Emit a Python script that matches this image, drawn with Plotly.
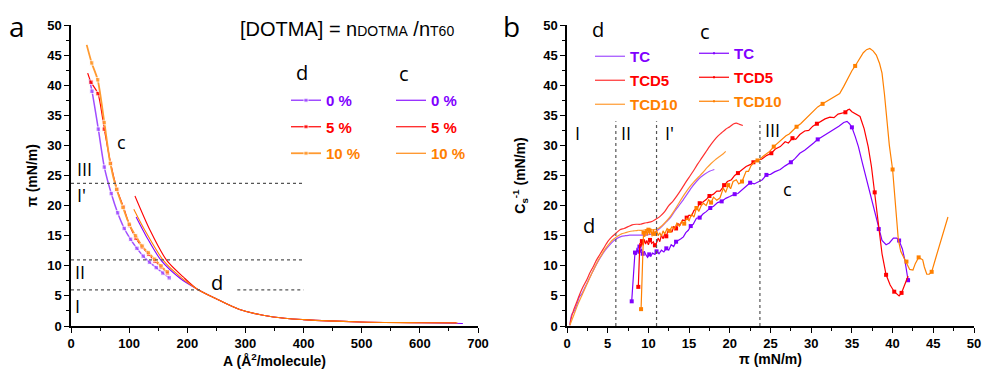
import plotly.graph_objects as go

W, H = 982, 371


def px(x):
    return x / W


def py(y):
    return 1 - y / H


# ---------------- Panel a : pi-A isotherms ----------------
a_d0 = [(31.5, 41.0), (36.1, 39.0), (47.0, 32.7), (57.3, 26.4), (69.3, 22.0), (80.2, 18.8),
        (91.6, 16.2), (102.5, 14.4), (113.4, 12.9), (124.3, 11.6), (135.0, 10.6),
        (146.6, 9.7), (158.0, 8.8), (169.0, 8.0)]
a_d5 = [(28.7, 42.0), (34.4, 40.5), (46.4, 38.6), (57.3, 32.7), (68.2, 27.0), (79.0, 22.7),
        (90.0, 19.8), (100.8, 16.7), (111.7, 14.6), (122.6, 13.1), (133.5, 11.9),
        (144.3, 10.8), (155.2, 9.8), (166.0, 8.8)]
a_d10 = [(27.0, 46.7), (35.6, 43.7), (45.9, 40.9), (57.3, 33.8), (67.6, 27.0), (78.5, 22.7),
         (89.4, 19.7), (100.2, 16.9), (111.0, 15.0), (122.0, 13.3), (132.9, 12.2),
         (143.8, 11.1), (154.6, 10.0), (165.5, 9.0)]
a_tail = [(248, 4.6), (290, 2.75), (348, 1.5), (400, 1.06), (497, 0.67), (600, 0.55)]
a_c0 = [(112, 18.1), (130, 14.8), (155, 10.9), (188, 7.9), (216, 6.2)] + a_tail + [(674, 0.42)]
a_c5 = [(110, 21.6), (136, 15.9), (164.6, 10.9), (193, 8.15), (216, 6.2)] + a_tail + [(663, 0.55)]
a_c10 = [(108, 19.4), (127, 15.9), (158.8, 10.9), (190, 8.0), (216, 6.2)] + a_tail + [(665, 0.5)]
conc_labels = ["0 %", "5 %", "10 %"]
regime_pi = [6.0, 11.0, 23.7]
a_regime_labels = [("I", 11.5, 3.4), ("II", 15.5, 9.0), ("I'", 17.2, 21.7), ("III", 22.9, 26.0)]
a_ticks_x = [0, 100, 200, 300, 400, 500, 600, 700]
ticks_50 = [0, 5, 10, 15, 20, 25, 30, 35, 40, 45, 50]

# ---------------- Panel b : compressibility modulus ----------------
b_d_tc = [(0.35, 0.1), (0.45, 1.2), (0.6, 2.0), (0.8, 2.3), (1.0, 2.8), (1.3, 3.9), (1.5, 4.8),
          (1.8, 5.3), (2.2, 6.4), (2.6, 7.5), (3.0, 8.6), (3.4, 9.7), (3.8, 10.7), (4.2, 11.6),
          (4.7, 12.6), (5.2, 13.4), (5.7, 14.1), (6.2, 14.6), (6.7, 14.9), (7.2, 15.0), (7.7, 15.1),
          (8.2, 15.1), (8.7, 15.1), (9.2, 15.1), (9.7, 15.1), (10.2, 15.2), (10.7, 15.5),
          (11.2, 16.0), (11.7, 16.6), (12.2, 17.3), (12.7, 18.0), (13.2, 19.0), (13.7, 19.9),
          (14.3, 21.0), (14.8, 22.0), (15.3, 23.0), (15.9, 24.0), (16.4, 24.7), (16.9, 25.2),
          (17.5, 25.7), (18.1, 26.0)]
b_d_tcd5 = [(0.35, 0.2), (0.5, 1.2), (0.8, 2.6), (1.2, 4.0), (1.6, 5.4), (2.0, 6.6), (2.4, 7.6),
            (2.8, 8.8), (3.2, 9.8), (3.6, 10.9), (4.0, 11.8), (4.5, 12.9), (5.0, 14.0), (5.5, 14.8),
            (6.0, 15.4), (6.5, 16.0), (7.0, 16.2), (7.5, 16.5), (8.0, 16.8), (8.5, 16.9), (9.0, 16.9),
            (9.5, 17.1), (10.0, 17.2), (10.5, 17.4), (11.0, 17.8), (11.5, 18.3), (12.0, 19.0),
            (12.5, 20.0), (13.0, 20.7), (13.5, 21.6), (14.0, 22.6), (14.5, 23.7), (15.0, 24.7),
            (15.5, 25.7), (16.0, 26.8), (16.5, 27.8), (17.0, 28.8), (17.5, 29.8), (18.0, 30.7),
            (18.5, 31.5), (19.0, 32.1), (19.5, 32.7), (20.0, 33.1), (20.5, 33.6), (20.8, 33.7),
            (21.2, 33.5), (21.6, 33.3)]
b_d_tcd10 = [(0.35, 0.1), (0.6, 1.0), (1.0, 2.4), (1.4, 3.8), (1.8, 5.0), (2.2, 6.2), (2.6, 7.4),
             (3.0, 8.6), (3.4, 9.7), (3.8, 10.8), (4.2, 11.7), (4.7, 12.8), (5.2, 13.7), (5.7, 14.4),
             (6.2, 14.9), (6.7, 15.3), (7.2, 15.5), (7.7, 15.7), (8.2, 15.8), (8.7, 15.9), (9.2, 15.9),
             (9.7, 16.0), (10.2, 16.0), (10.7, 16.0), (11.2, 16.2), (11.7, 16.7), (12.2, 17.4),
             (12.7, 18.2), (13.2, 19.2), (13.7, 20.3), (14.2, 21.4), (14.7, 22.4), (15.2, 23.3),
             (15.7, 24.1), (16.2, 24.8), (16.7, 25.5), (17.2, 26.3), (17.7, 27.0), (18.2, 27.6),
             (18.7, 28.1), (19.2, 28.6), (19.5, 29.0)]

b_c_tc = [(7.95, 4.1), (8.2, 9.0), (8.35, 12.2), (8.5, 11.8), (8.6, 13.0), (8.75, 12.0), (8.9, 13.2),
          (9.0, 12.2), (9.15, 12.8), (9.3, 12.0), (9.5, 12.4), (9.7, 11.8), (9.9, 11.4), (10.1, 11.9),
          (10.3, 11.6), (10.5, 12.1), (10.8, 11.9), (11.0, 12.4), (11.3, 12.0), (11.6, 12.6),
          (11.9, 12.3), (12.2, 12.9), (12.5, 12.6), (12.8, 13.5), (13.1, 13.2), (13.4, 14.0),
          (13.7, 14.2), (14.0, 14.5), (14.3, 14.8), (14.6, 15.5), (14.9, 15.9), (15.2, 16.6),
          (15.5, 16.9), (15.9, 17.9), (16.3, 18.0), (16.7, 18.6), (17.1, 19.0), (17.6, 19.6),
          (18.0, 19.9), (18.5, 20.5), (19.0, 20.7), (19.5, 21.2), (20.0, 21.5), (20.6, 21.9),
          (21.0, 22.0), (21.5, 22.6), (22.0, 23.2), (22.5, 23.8), (23.0, 23.6), (23.5, 23.9),
          (24.0, 24.3), (24.5, 25.1), (25.0, 25.2), (25.5, 25.6), (26.2, 26.0), (26.8, 26.6),
          (27.5, 27.2), (28.0, 27.8), (28.6, 28.7), (29.2, 29.2), (29.8, 29.8), (30.3, 30.4),
          (30.8, 31.0), (31.5, 31.6), (32.2, 32.1), (32.8, 32.7), (33.4, 33.2), (34.0, 33.8),
          (34.4, 34.0), (34.7, 33.6), (35.0, 33.0), (35.4, 31.5), (35.8, 29.8), (36.3, 27.0),
          (36.8, 24.3), (37.3, 21.5), (37.8, 18.6), (38.3, 16.1), (38.7, 14.2), (39.2, 13.5),
          (39.6, 13.8), (40.1, 14.6), (40.5, 14.6), (40.8, 14.2), (41.2, 12.8), (41.5, 11.0),
          (41.7, 9.5), (41.9, 7.6), (42.0, 8.0)]
b_c_tc_mk = [(7.95, 4.1), (8.35, 12.2), (8.9, 13.2), (9.3, 12.0), (10.1, 11.9), (11.0, 12.4),
             (12.2, 12.9), (13.4, 14.0), (15.2, 16.6), (16.3, 18.0), (17.6, 19.6), (19.0, 20.7),
             (20.6, 21.9), (22.5, 23.8), (24.5, 25.1), (27.5, 27.2), (30.8, 31.0), (35.0, 33.0),
             (38.3, 16.1), (40.8, 14.2), (41.9, 7.6)]

b_c_tcd5 = [(8.76, 6.5), (8.85, 10.5), (8.95, 13.8), (9.1, 13.2), (9.2, 14.1), (9.35, 13.4),
            (9.5, 14.4), (9.65, 13.6), (9.8, 14.2), (10.0, 13.5), (10.2, 14.3), (10.4, 13.7),
            (10.6, 14.0), (10.8, 13.4), (11.0, 13.8), (11.2, 14.6), (11.4, 14.0), (11.6, 15.1),
            (11.8, 14.5), (12.0, 15.3), (12.2, 14.9), (12.4, 15.8), (12.65, 16.0), (12.9, 15.6),
            (13.1, 16.5), (13.4, 16.2), (13.6, 17.0), (13.9, 16.8), (14.2, 17.6), (14.5, 17.5),
            (14.7, 18.0), (15.0, 18.4), (15.3, 18.3), (15.6, 19.2), (16.0, 19.6), (16.3, 20.4),
            (16.7, 20.6), (17.1, 21.0), (17.5, 21.6), (18.0, 21.9), (18.4, 22.4), (18.8, 22.4),
            (19.3, 23.4), (19.7, 24.0), (20.2, 24.3), (20.6, 25.0), (21.0, 25.4), (21.5, 25.9),
            (22.0, 26.5), (22.5, 26.8), (22.9, 27.2), (23.4, 27.6), (23.9, 27.7), (24.5, 28.3),
            (25.1, 28.7), (25.6, 29.4), (26.2, 29.8), (26.8, 30.6), (27.2, 30.4), (27.7, 31.2),
            (28.1, 31.0), (28.6, 31.8), (29.2, 32.4), (29.7, 32.5), (30.2, 33.2), (30.7, 33.6),
            (31.2, 33.9), (31.7, 34.4), (32.3, 34.7), (32.8, 34.6), (33.3, 35.2), (33.8, 35.3),
            (34.2, 35.5), (34.5, 35.9), (34.7, 36.0), (35.0, 35.6), (35.4, 35.3), (36.0, 34.8),
            (36.5, 32.8), (37.0, 29.8), (37.4, 26.5), (37.8, 22.2), (38.1, 18.5), (38.3, 16.0),
            (38.7, 12.0), (39.2, 8.5), (39.7, 6.8), (40.2, 5.7), (40.5, 5.3), (40.8, 5.0),
            (41.1, 5.5), (41.5, 6.8), (41.9, 8.3)]
b_c_tcd5_mk = [(8.76, 6.5), (9.2, 14.1), (10.2, 14.3), (10.8, 13.4), (12.2, 14.9), (13.4, 16.2),
               (14.7, 18.0), (16.3, 20.4), (17.5, 21.6), (19.3, 23.4), (21.0, 25.4), (22.9, 27.2),
               (25.1, 28.7), (27.7, 31.2), (30.7, 33.6), (34.2, 35.5), (37.8, 22.2), (39.2, 8.5),
               (40.2, 5.7), (41.1, 5.5)]

b_c_tcd10 = [(9.1, 2.8), (9.2, 8.0), (9.3, 12.7), (9.4, 15.5), (9.55, 14.8), (9.7, 16.1),
             (9.85, 15.0), (10.0, 16.0), (10.15, 15.2), (10.3, 16.2), (10.45, 14.9), (10.6, 16.0),
             (10.8, 15.3), (11.0, 15.9), (11.2, 15.0), (11.4, 15.5), (11.6, 14.9), (11.8, 15.8),
             (12.0, 15.3), (12.3, 16.2), (12.6, 15.8), (12.9, 16.5), (13.2, 16.1), (13.5, 17.1),
             (13.8, 16.6), (14.1, 17.4), (14.4, 17.0), (14.7, 17.9), (15.0, 17.5), (15.3, 18.6),
             (15.6, 18.1), (15.9, 19.6), (16.2, 19.1), (16.5, 20.0), (16.75, 20.4), (17.1, 20.0),
             (17.4, 21.0), (17.7, 20.5), (18.0, 21.4), (18.4, 20.9), (18.8, 21.3), (19.2, 22.9),
             (19.5, 22.2), (19.8, 23.4), (20.1, 22.8), (20.4, 24.0), (20.8, 24.3), (21.1, 23.6),
             (21.5, 24.0), (21.8, 25.0), (22.0, 25.7), (22.3, 25.7), (22.6, 26.6), (23.0, 27.2),
             (23.4, 27.5), (23.7, 27.7), (24.1, 28.2), (24.5, 28.6), (24.9, 29.0), (25.4, 29.8),
             (25.9, 30.4), (26.4, 31.0), (26.9, 31.6), (27.3, 31.9), (27.7, 32.5), (28.2, 33.1),
             (28.7, 33.6), (29.2, 34.3), (29.8, 35.1), (30.3, 35.8), (30.8, 36.4), (31.4, 36.9),
             (31.9, 37.3), (32.5, 37.8), (33.0, 38.2), (33.5, 38.6), (34.0, 39.8), (34.6, 41.5),
             (35.0, 42.4), (35.4, 43.2), (35.9, 44.4), (36.4, 45.4), (36.8, 45.9), (37.2, 46.1),
             (37.6, 45.7), (38.0, 45.0), (38.4, 43.6), (38.7, 42.0), (39.0, 38.5), (39.3, 34.0),
             (39.6, 30.0), (40.0, 26.0), (40.3, 20.5), (40.5, 16.8), (40.7, 14.4), (41.0, 12.4),
             (41.3, 11.6), (41.7, 10.7), (42.1, 9.4), (42.5, 9.3), (42.8, 10.4), (43.2, 11.4),
             (43.5, 11.2), (43.7, 11.0), (43.9, 9.8), (44.2, 8.6), (44.5, 8.6), (44.8, 9.0),
             (45.3, 11.3), (45.8, 13.6), (46.3, 16.0), (46.8, 18.1)]
b_c_tcd10_mk = [(9.1, 2.8), (9.4, 15.5), (10.0, 16.0), (10.8, 15.3), (12.6, 15.8), (14.4, 17.0),
                (15.9, 19.6), (17.7, 20.5), (19.8, 23.4), (21.5, 24.0), (23.4, 27.5), (25.4, 29.8),
                (28.2, 33.1), (31.4, 36.9), (35.4, 43.2), (40.0, 26.0), (41.7, 10.7), (43.2, 11.4),
                (44.8, 9.0)]
series_b = ["TC", "TCD5", "TCD10"]
b_regime_labels = [("I", 1.3, 32.0), ("II", 7.25, 32.0), ("I'", 12.65, 32.0), ("III", 25.3, 32.6)]

# ---------------- styling ----------------
PURPLE, RED, ORANGE = "#8000FF", "#FF0000", "#FF8000"
PURPLE_L, RED_L, ORANGE_L = "#A04DFF", "#FF3030", "#FF9A30"
FONT = "Arial, Liberation Sans"
TICKF = dict(family=FONT, size=13, color="black")
LABF = dict(family="Open Sans", size=18, color="black")
HDR = dict(family="Open Sans", size=20, color="black")


def xy(pts):
    return [p[0] for p in pts], [p[1] for p in pts]


def nm(text, col):
    return "<span style='color:%s'><b>%s</b></span>" % (col, text)


fig = go.Figure()

# panel a : d curves (lines + markers)
for pts, col, tcol, lab, w in [(a_d0, PURPLE_L, PURPLE, conc_labels[0], 1.5),
                               (a_d5, RED, RED, conc_labels[1], 1.2),
                               (a_d10, ORANGE_L, ORANGE, conc_labels[2], 1.8)]:
    x, y = xy(pts)
    fig.add_trace(go.Scatter(
        x=x, y=y, mode="lines+markers", xaxis="x", yaxis="y",
        line=dict(color=col, width=w, shape="spline", smoothing=0.7),
        marker=dict(symbol="square", size=[0.01] + [4.5] * (len(x) - 1), color=col),
        name=nm(lab, tcol), legend="legend", legendgroup="ad" + lab))

# panel a : c curves
for pts, col, lab in [(a_c0, PURPLE, conc_labels[0]), (a_c5, RED, conc_labels[1]),
                      (a_c10, ORANGE, conc_labels[2])]:
    x, y = xy(pts)
    fig.add_trace(go.Scatter(
        x=x, y=y, mode="lines", xaxis="x", yaxis="y",
        line=dict(color=col, width=1.1, shape="spline", smoothing=0.8),
        name=nm(lab, col), legend="legend2", legendgroup="ac" + lab))

# panel b : d curves (smooth lines)
for pts, col, tcol, lab in [(b_d_tc, PURPLE_L, PURPLE, series_b[0]),
                            (b_d_tcd5, RED_L, RED, series_b[1]),
                            (b_d_tcd10, ORANGE_L, ORANGE, series_b[2])]:
    x, y = xy(pts)
    fig.add_trace(go.Scatter(
        x=x, y=y, mode="lines", xaxis="x2", yaxis="y2",
        line=dict(color=col, width=1.2, shape="spline", smoothing=0.6),
        name=nm(lab, tcol), legend="legend3", legendgroup="bd" + lab))

# panel b : c curves (lines + sparse markers)
for pts, mk, col, lab in [(b_c_tc, b_c_tc_mk, PURPLE, series_b[0]),
                          (b_c_tcd5, b_c_tcd5_mk, RED, series_b[1]),
                          (b_c_tcd10, b_c_tcd10_mk, ORANGE, series_b[2])]:
    x, y = xy(pts)
    fig.add_trace(go.Scatter(
        x=x, y=y, mode="lines+markers", xaxis="x2", yaxis="y2",
        line=dict(color=col, width=1.2),
        marker=dict(size=0.01, color=col, symbol="square"),
        name=nm(lab, col), legend="legend4", legendgroup="bc" + lab))
    mx, my = xy(mk)
    fig.add_trace(go.Scatter(
        x=mx, y=my, mode="markers", xaxis="x2", yaxis="y2",
        marker=dict(size=4, color=col, symbol="square"), showlegend=False))

# regime boundaries
shapes = []
for v in regime_pi:
    segs = [(0, 222), (286, 400)] if v == 6.0 else [(0, 400)]
    for s0, s1 in segs:
        shapes.append(dict(type="line", xref="x", yref="y", x0=s0, x1=s1, y0=v, y1=v,
                           line=dict(color="#555", width=1.2, dash="dot")))
    shapes.append(dict(type="line", xref="x2", yref="y2", x0=v, x1=v, y0=0, y1=34,
                       line=dict(color="#555", width=1.2, dash="dot")))


def note(text, x, y, ref, font, xa="center"):
    xr, yr = ("paper", "paper") if ref == "p" else ("x" + ref, "y" + ref)
    return dict(text=text, x=x, y=y, xref=xr, yref=yr, showarrow=False, font=font,
                xanchor=xa, yanchor="middle")


ann = []
for t, x, y in a_regime_labels:
    ann.append(note(t, x, y, "", LABF))
for t, x, y in b_regime_labels:
    ann.append(note(t, x, y, "2", LABF))
ann += [
    note("c", 87.2, 30.6, "", LABF),
    note("d", 250.6, 7.3, "", HDR),
    note("c", 27.1, 22.8, "2", LABF),
    note("d", 2.74, 16.7, "2", HDR),
    # legend column headers
    note("d", px(302), py(72), "p", HDR),
    note("c", px(404), py(73), "p", HDR),
    note("d", px(598), py(30), "p", HDR),
    note("c", px(705), py(32), "p", HDR),
    note("a", px(17), py(26), "p", dict(family="Open Sans", size=28, color="black")),
    note("b", px(511), py(26), "p", dict(family="Open Sans", size=28, color="black")),
    note("[DOTMA] = n<span style='font-size:14px'>DOTMA</span> /n<span style='font-size:14px'>T60</span>",
         px(238), py(29), "p", dict(family=FONT, size=20, color="black"), xa="left"),
]


def axis(domain, rng, vals, mdt, title, anchor, standoff):
    return dict(domain=domain, range=rng, tickmode="array", tickvals=vals,
                ticktext=["<b>%g</b>" % v for v in vals], ticks="outside", ticklen=5,
                tickwidth=1.3, tickcolor="black", showline=True, linewidth=1.5,
                linecolor="black", showgrid=False, zeroline=False, anchor=anchor,
                automargin=False, tickfont=TICKF,
                minor=dict(dtick=mdt, tick0=0, ticks="outside", ticklen=3, tickwidth=1.1,
                           tickcolor="black", showgrid=False),
                title=dict(text=title, standoff=standoff,
                           font=dict(family=FONT, size=14, color="black")))


YD = [1 - 326 / H, 1 - 25 / H]


def leg(x, y, gap):
    return dict(bgcolor="rgba(0,0,0,0)", xanchor="left", yanchor="top",
                font=dict(family=FONT, size=15), tracegroupgap=gap, itemwidth=30,
                x=px(x), y=py(y))


fig.update_layout(
    width=W, height=H, autosize=False, margin=dict(l=0, r=0, t=0, b=0),
    plot_bgcolor="white", paper_bgcolor="white",
    xaxis=axis([71 / W, 478 / W], [0, 700], a_ticks_x, 50, "<b>A (Å<sup>2</sup>/molecule)</b>", "y", 4),
    yaxis=axis(YD, [0, 50], ticks_50, 2.5, "<b>π (mN/m)</b>", "x", 6),
    xaxis2=axis([567 / W, 974 / W], [0, 50], ticks_50, 2.5, "<b>π (mN/m)</b>", "y2", 4),
    yaxis2=axis(YD, [0, 50], ticks_50, 2.5, "<b>C<sub>s</sub><sup>-1</sup> (mN/m)</b>", "x2", 14),
    legend=leg(286, 84, 4),
    legend2=leg(391, 84, 4),
    legend3=leg(590, 40, 1.5),
    legend4=leg(694, 37, 1.5),
    shapes=shapes, annotations=ann, showlegend=True,
)

fig.write_html("out.html", config={"displayModeBar": False},
               post_script="document.body.style.margin='0';document.body.style.padding='0';")
